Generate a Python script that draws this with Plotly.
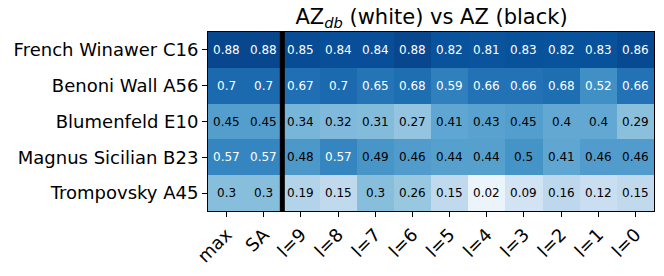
import plotly.graph_objects as go

columns = ["max", "SA", "l=9", "l=8", "l=7", "l=6", "l=5", "l=4", "l=3", "l=2", "l=1", "l=0"]
openings = ["French Winawer C16", "Benoni Wall A56", "Blumenfeld E10", "Magnus Sicilian B23", "Trompovsky A45"]
french = [0.88, 0.88, 0.85, 0.84, 0.84, 0.88, 0.82, 0.81, 0.83, 0.82, 0.83, 0.86]
benoni = [0.7, 0.7, 0.67, 0.7, 0.65, 0.68, 0.59, 0.66, 0.66, 0.68, 0.52, 0.66]
blumenfeld = [0.45, 0.45, 0.34, 0.32, 0.31, 0.27, 0.41, 0.43, 0.45, 0.4, 0.4, 0.29]
magnus = [0.57, 0.57, 0.48, 0.57, 0.49, 0.46, 0.44, 0.44, 0.5, 0.41, 0.46, 0.46]
trompovsky = [0.3, 0.3, 0.19, 0.15, 0.3, 0.26, 0.15, 0.02, 0.09, 0.16, 0.12, 0.15]
rows = [french, benoni, blumenfeld, magnus, trompovsky]

# matplotlib "Blues" with a power-norm (gamma ~0.7) colour mapping
blues = ["#f7fbff", "#deebf7", "#c6dbef", "#9ecae1", "#6baed6", "#4292c6", "#2171b5", "#08519c", "#08306b"]
GAMMA = 0.7


def hex2rgb(h):
    return tuple(int(h[i:i + 2], 16) for i in (1, 3, 5))


def blues_at(t):
    t = min(max(t, 0.0), 1.0)
    pos = t * (len(blues) - 1)
    i = min(int(pos), len(blues) - 2)
    f = pos - i
    a, b = hex2rgb(blues[i]), hex2rgb(blues[i + 1])
    return "rgb(%d,%d,%d)" % tuple(round(a[k] + (b[k] - a[k]) * f) for k in range(3))


N = 60
colorscale = [[k / N, blues_at((k / N) ** GAMMA)] for k in range(N + 1)]

xs = list(range(len(columns)))
ys = list(range(len(openings)))

fig = go.Figure()
fig.add_trace(go.Heatmap(
    z=rows, x=xs, y=ys, colorscale=colorscale, zmin=0, zmax=1,
    showscale=False, hoverinfo="skip", xgap=0, ygap=0,
))

for r, row in enumerate(rows):
    for c, v in enumerate(row):
        fig.add_annotation(
            x=c, y=r, text=f"{v:g}", showarrow=False,
            font=dict(size=12, color="white" if v > 0.5 else "black",
                      family="DejaVu Sans"),
        )

fig.add_shape(type="line", xref="x", yref="paper", x0=1.5, x1=1.5, y0=0, y1=1,
              line=dict(color="black", width=5))

fig.update_layout(
    width=664, height=276,
    margin=dict(l=208, r=9, t=32, b=59),
    plot_bgcolor="white", paper_bgcolor="white",
    font=dict(family="DejaVu Sans", color="black"),
    title=dict(text="AZ<sub><i>db</i></sub> (white) vs AZ (black)", x=(208 + 655) / 2 / 664,
               xanchor="center", y=0.94, yanchor="middle", font=dict(size=21)),
    showlegend=False,
)
fig.update_xaxes(
    tickmode="array", tickvals=xs, ticktext=columns, tickangle=-45,
    tickfont=dict(size=18), ticks="outside", ticklen=5, tickcolor="black",
    showline=True, linecolor="black", mirror=True, linewidth=1,
    range=[-0.5, len(columns) - 0.5], showgrid=False, zeroline=False,
)
fig.update_yaxes(
    tickmode="array", tickvals=ys, ticktext=openings,
    tickfont=dict(size=18), ticks="outside", ticklen=5, tickcolor="black",
    showline=True, linecolor="black", mirror=True, linewidth=1,
    range=[len(openings) - 0.5, -0.5], showgrid=False, zeroline=False,
)

fig.write_html("out.html", config={"displayModeBar": False},
               post_script="document.body.style.margin='0';")
